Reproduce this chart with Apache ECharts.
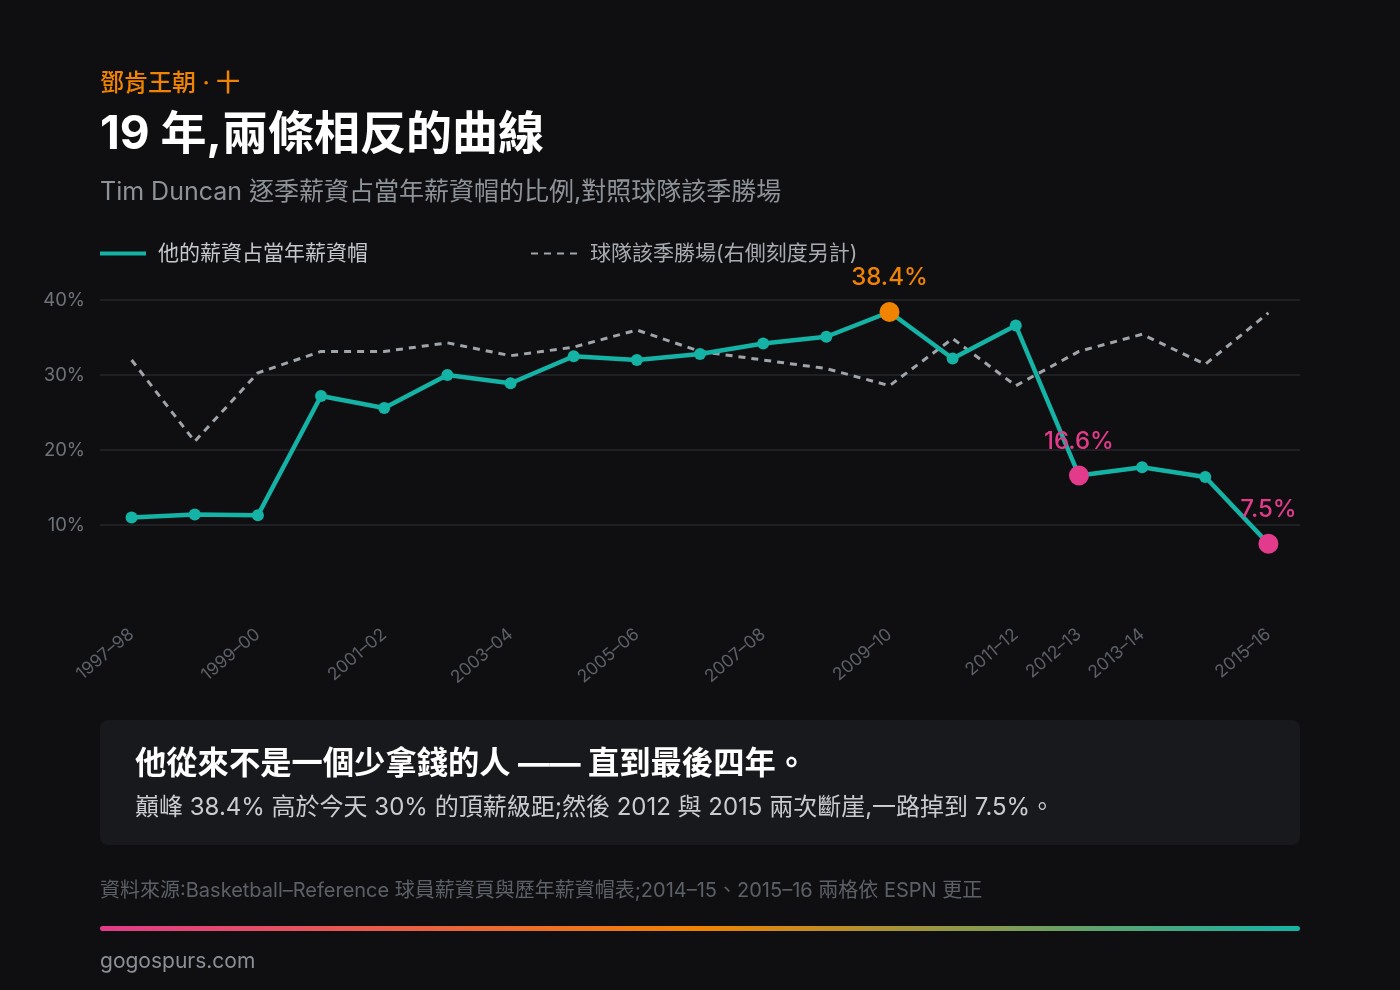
<!DOCTYPE html>
<html>
<head>
<meta charset="utf-8">
<script src="https://cdn.jsdelivr.net/npm/echarts@6/dist/echarts.min.js"></script>
<style>
  html, body { margin: 0; padding: 0; background: #0f0f11; }
  #chart { width: 1400px; height: 990px; }
</style>
</head>
<body>
<div id="chart"></div>
<script>
// ---- Data ----
const seasons = ['1997–98','1998–99','1999–00','2000–01','2001–02','2002–03','2003–04','2004–05','2005–06','2006–07','2007–08','2008–09','2009–10','2010–11','2011–12','2012–13','2013–14','2014–15','2015–16'];
const salaryPctOfCap = [11.0, 11.4, 11.3, 27.2, 25.6, 30.0, 28.9, 32.5, 32.0, 32.8, 34.2, 35.1, 38.4, 32.2, 36.6, 16.6, 17.7, 16.4, 7.5];
const teamWins = [56, 37, 53, 58, 58, 60, 57, 59, 63, 58, 56, 54, 50, 61, 50, 58, 62, 55, 67];
const labeledSeasons = ['1997–98','1999–00','2001–02','2003–04','2005–06','2007–08','2009–10','2011–12','2012–13','2013–14','2015–16'];
const peakSeason = '2009–10';
const cliffSeasons = ['2012–13', '2015–16'];
const yTicks = [0, 10, 20, 30, 40];

const FONT = "Inter, 'Noto Sans CJK TC', sans-serif";
const TEAL = '#14b3a6', ORANGE = '#f08300', PINK = '#e23b8b';

const salaryData = salaryPctOfCap.map((v, i) => {
  const s = seasons[i];
  if (s === peakSeason || cliffSeasons.includes(s)) {
    const c = s === peakSeason ? ORANGE : PINK;
    return {
      value: v, symbolSize: 20, itemStyle: { color: c },
      label: { show: true, position: 'top', distance: 12, formatter: v.toFixed(1) + '%', color: c, fontSize: 24, fontWeight: 500, fontFamily: FONT }
    };
  }
  return v;
});

const chart = echarts.init(document.getElementById('chart'), null, { renderer: 'canvas' });
chart.setOption({
  backgroundColor: '#0f0f11',
  animation: false,
  grid: { left: 100, right: 100, top: 300, bottom: 390, containLabel: false },
  legend: [
    { left: 100, top: 243, padding: 0, itemWidth: 46, itemHeight: 4, itemGap: 20,
      data: [{ name: '他的薪資占當年薪資帽', icon: 'rect' }],
      textStyle: { color: '#c4c7cc', fontSize: 21, fontFamily: FONT, padding: [0, 0, 0, 7] } },
    { left: 530, top: 243, padding: 0, itemWidth: 46, itemHeight: 20,
      data: ['球隊該季勝場(右側刻度另計)'],
      itemStyle: { color: 'rgba(0,0,0,0)', borderWidth: 0, opacity: 0 },
      textStyle: { color: '#a9adb3', fontSize: 21, fontFamily: FONT, padding: [0, 0, 0, 8] } }
  ],
  xAxis: {
    type: 'category', data: seasons, boundaryGap: true,
    axisLine: { show: false }, axisTick: { show: false },
    axisLabel: {
      rotate: 40, margin: 32, color: '#5c6068', fontSize: 17.5, fontFamily: FONT,
      interval: (idx, val) => labeledSeasons.includes(val)
    }
  },
  yAxis: [
    { type: 'value', min: yTicks[0], max: yTicks[yTicks.length - 1], interval: 10,
      axisLine: { show: false }, axisTick: { show: false },
      axisLabel: { margin: 15, color: '#6e727a', fontSize: 18.5, fontFamily: FONT,
        formatter: v => v === 0 ? '' : v + '%' },
      splitLine: { lineStyle: { color: ['rgba(0,0,0,0)', '#25272b', '#25272b', '#25272b', '#25272b'], width: 1.5 } } },
    { type: 'value', min: 0, max: 70, show: false, splitLine: { show: false } }
  ],
  series: [
    { name: '球隊該季勝場(右側刻度另計)', type: 'line', yAxisIndex: 1, data: teamWins,
      symbol: 'none', z: 1,
      lineStyle: { color: '#a0a5ab', width: 3, type: [7, 6] },
      itemStyle: { color: '#a0a5ab' } },
    { name: '他的薪資占當年薪資帽', type: 'line', yAxisIndex: 0, data: salaryData,
      symbol: 'circle', symbolSize: 12, z: 3,
      lineStyle: { color: TEAL, width: 4.5 },
      itemStyle: { color: TEAL } }
  ],
  graphic: [
    { type: 'text', left: 100, top: 72, style: { text: '鄧肯王朝 · 十', fill: ORANGE, fontSize: 24, fontWeight: 500, fontFamily: FONT } },
    { type: 'text', left: 100, top: 112, style: { text: '19 年,兩條相反的曲線', fill: '#ffffff', fontSize: 46, fontWeight: 'bold', fontFamily: FONT } },
    { type: 'text', left: 100, top: 180, style: { text: 'Tim Duncan 逐季薪資占當年薪資帽的比例,對照球隊該季勝場', fill: '#8e939a', fontSize: 25, fontFamily: FONT } },
    { type: 'rect', shape: { x: 100, y: 720, width: 1200, height: 125, r: 8 }, style: { fill: '#18191c' } },
    { type: 'text', left: 135, top: 749, style: { text: '他從來不是一個少拿錢的人 —— 直到最後四年。', fill: '#ffffff', fontSize: 31.3, fontWeight: 'bold', fontFamily: FONT } },
    { type: 'text', left: 135, top: 796, style: { text: '巔峰 38.4% 高於今天 30% 的頂薪級距;然後 2012 與 2015 兩次斷崖,一路掉到 7.5%。', fill: '#c9ccd1', fontSize: 24, fontFamily: FONT } },
    { type: 'text', left: 100, top: 881, style: { text: '資料來源:Basketball–Reference 球員薪資頁與歷年薪資帽表;2014–15、2015–16 兩格依 ESPN 更正', fill: '#5c6068', fontSize: 20, fontFamily: FONT } },
    { type: 'rect', shape: { x: 100, y: 926, width: 1200, height: 5, r: 2.5 },
      style: { fill: new echarts.graphic.LinearGradient(0, 0, 1, 0, [
        { offset: 0, color: PINK }, { offset: 0.5, color: ORANGE }, { offset: 1, color: TEAL }]) } },
    { type: 'text', left: 100, top: 951, style: { text: 'gogospurs.com', fill: '#8a8f96', fontSize: 21, fontFamily: FONT } }
  ]
});
</script>
</body>
</html>
